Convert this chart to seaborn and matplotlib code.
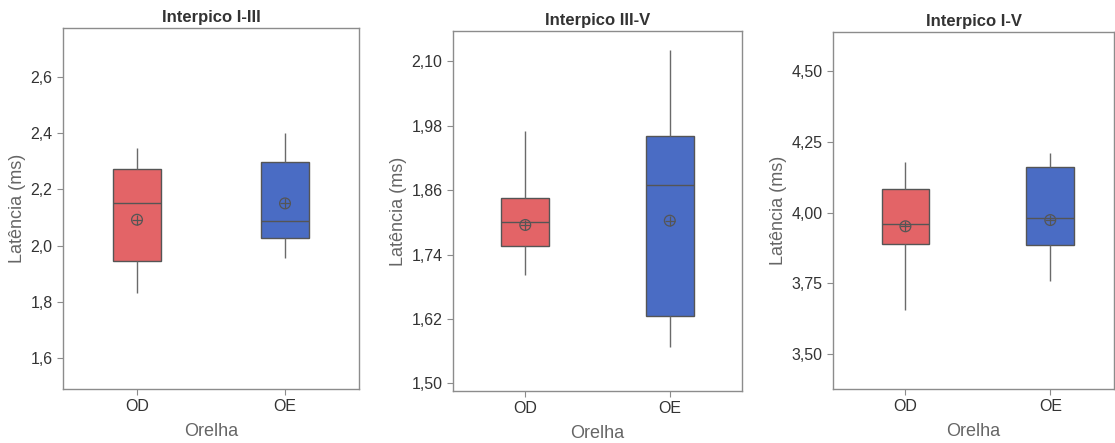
import pandas as pd
import numpy as np
import seaborn as sns
import matplotlib.pyplot as plt

sns.set_style(style="white")
plt.rcParams['font.family'] = ['Liberation Sans', 'DejaVu Sans']

orelha = ['OD', 'OE']
titulos = ['Interpico I-III', 'Interpico III-V', 'Interpico I-V']

# min, Q1, mediana, Q3, max
i_iii_od = [1.832, 1.945, 2.150, 2.273, 2.347]
i_iii_oe = [1.956, 2.026, 2.086, 2.298, 2.400]
iii_v_od = [1.701, 1.756, 1.800, 1.845, 1.969]
iii_v_oe = [1.567, 1.625, 1.869, 1.960, 2.120]
i_v_od = [3.655, 3.889, 3.959, 4.084, 4.180]
i_v_oe = [3.759, 3.884, 3.982, 4.162, 4.212]

# medias
media_i_iii = [2.092, 2.150]
media_iii_v = [1.795, 1.803]
media_i_v = [3.952, 3.974]

yticks_i_iii = [1.6, 1.8, 2.0, 2.2, 2.4, 2.6]
ylabels_i_iii = ['1,6', '1,8', '2,0', '2,2', '2,4', '2,6']
yticks_iii_v = [1.50, 1.62, 1.74, 1.86, 1.98, 2.10]
ylabels_iii_v = ['1,50', '1,62', '1,74', '1,86', '1,98', '2,10']
yticks_i_v = [3.50, 3.75, 4.00, 4.25, 4.50]
ylabels_i_v = ['3,50', '3,75', '4,00', '4,25', '4,50']

paineis = [
    (i_iii_od, i_iii_oe, media_i_iii, yticks_i_iii, ylabels_i_iii, (1.49, 2.774)),
    (iii_v_od, iii_v_oe, media_iii_v, yticks_iii_v, ylabels_iii_v, (1.486, 2.156)),
    (i_v_od, i_v_oe, media_i_v, yticks_i_v, ylabels_i_v, (3.376, 4.64)),
]
posicoes = [
    [0.0565, 0.1219, 0.2655, 0.815],
    [0.4063, 0.1174, 0.2592, 0.8126],
    [0.7471, 0.1219, 0.2520, 0.806],
]
xlims = [(-0.5, 1.5), (-0.5, 1.5), (-0.5, 1.44)]

cores = {'OD': '#E36467', 'OE': '#4A6CC4'}
cinza = '#8c8c8c'

fig = plt.figure(figsize=(11.15, 4.43), dpi=100)

for k, (od, oe, medias, yt, yl, ylim) in enumerate(paineis):
    ax = fig.add_axes(posicoes[k])
    df = pd.DataFrame({'Orelha': ['OD'] * len(od) + ['OE'] * len(oe),
                       'Latencia': od + oe})
    sns.boxplot(data=df, x='Orelha', y='Latencia', hue='Orelha', order=orelha,
                palette=cores, legend=False, width=0.33, whis=(0, 100),
                saturation=1, linecolor='#555555', linewidth=1.0,
                showcaps=False, whiskerprops={'color': '#6a6a6a'}, ax=ax)
    # media: circulo com cruz
    ax.scatter(np.arange(len(orelha)), medias, s=60, facecolors='none',
               edgecolors='#555555', linewidths=0.9, zorder=5)
    ax.scatter(np.arange(len(orelha)), medias, s=60, marker='+',
               color='#555555', linewidths=0.9, zorder=5)
    ax.set_xlim(*xlims[k])
    ax.set_ylim(*ylim)
    ax.set_yticks(yt)
    ax.set_yticklabels(yl)
    ax.set_title(titulos[k], fontsize=12, fontweight='bold', color='#333333', pad=4)
    ax.set_xlabel('Orelha', fontsize=13, color='#666666', labelpad=6)
    ax.set_ylabel('Latência (ms)', fontsize=13, color='#666666', labelpad=3)
    ax.tick_params(axis='both', labelsize=11.5, labelcolor='#333333', colors=cinza,
                   length=4, width=0.8, direction='out', left=True, bottom=True)
    for s in ax.spines.values():
        s.set_color(cinza)
        s.set_linewidth(1.0)

fig.savefig('out.png', dpi=100)
